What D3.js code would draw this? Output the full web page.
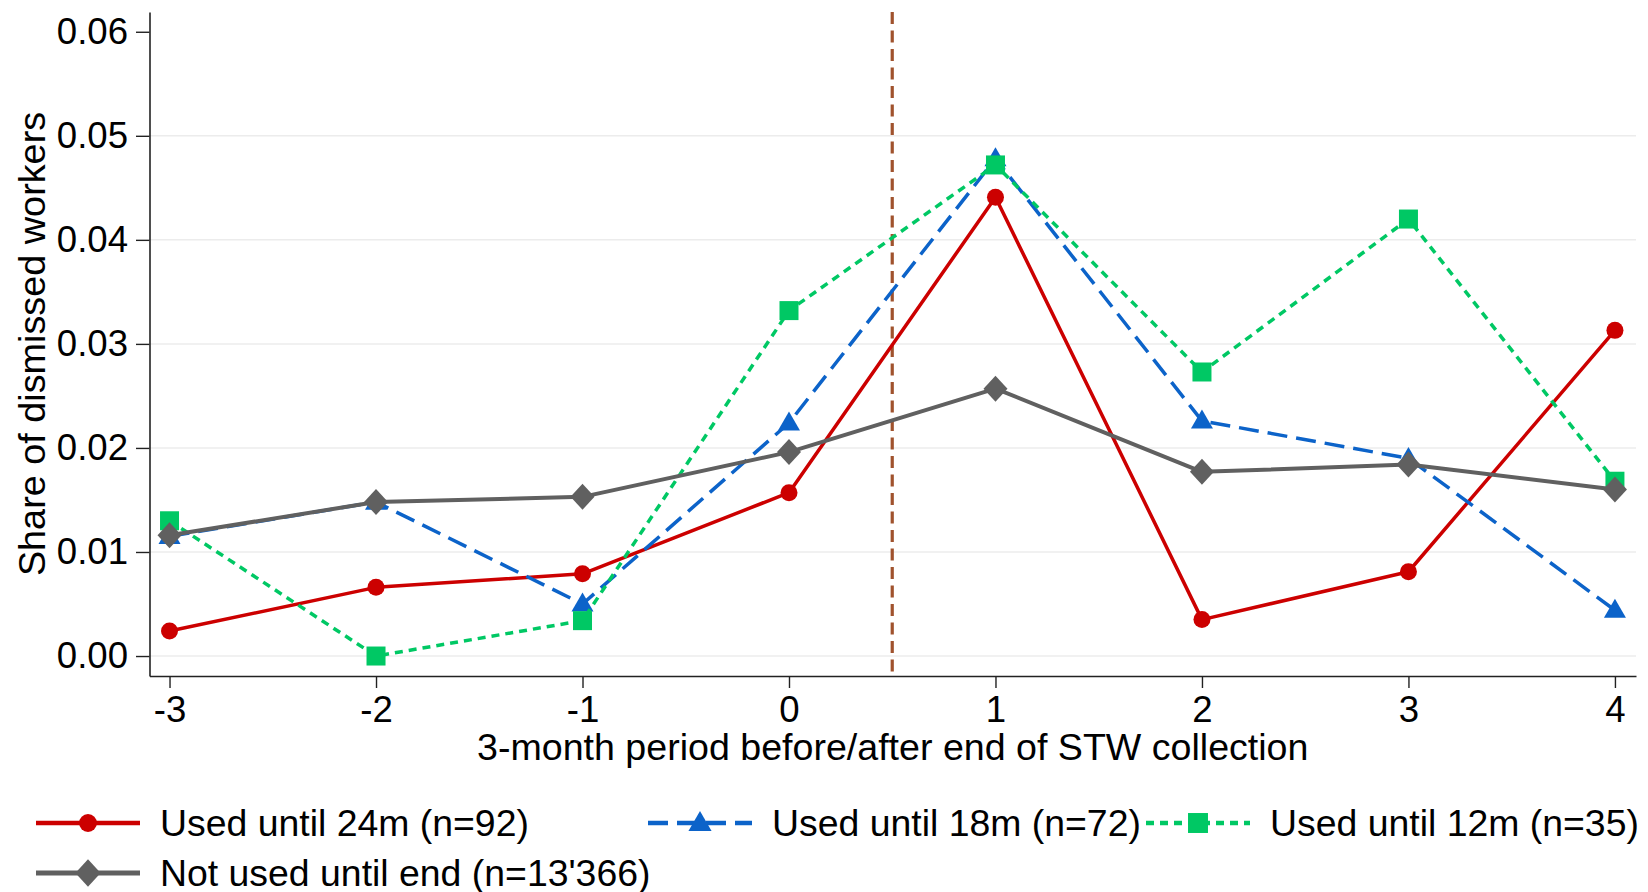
<!DOCTYPE html>
<html>
<head>
<meta charset="utf-8">
<script src="https://cdn.jsdelivr.net/npm/d3@7"></script>
<style>
  html, body { margin: 0; padding: 0; background: #fff; }
  svg { display: block; font-family: "Liberation Sans", Arial, sans-serif; }
</style>
</head>
<body>
<div id="chart"></div>
<script>
// periods (3-month) relative to end of STW collection
const periods = [-3, -2, -1, 0, 1, 2, 3, 4];

// share of dismissed workers
const used24m = [0.0024, 0.0066, 0.0079, 0.0157, 0.0441, 0.0035, 0.0081, 0.0313];
const used18m = [0.0115, 0.0148, 0.0050, 0.0224, 0.0478, 0.0226, 0.0190, 0.0044];
const used12m = [0.0130, 0.0000, 0.0034, 0.0332, 0.0472, 0.0273, 0.0420, 0.0168];
const notUsed = [0.0116, 0.0148, 0.0153, 0.0196, 0.0257, 0.0177, 0.0184, 0.0160];

const yTicks = [0, 0.01, 0.02, 0.03, 0.04, 0.05, 0.06];
const seriesLabels = [
  "Used until 24m (n=92)",
  "Used until 18m (n=72)",
  "Used until 12m (n=35)",
  "Not used until end (n=13'366)"
];

const W = 1648, H = 892;
const plot = { left: 149.5, right: 1636, top: 12, bottom: 676 };

const series = [
  { label: seriesLabels[0], values: used24m, color: "#cc0000", dash: null, width: 3.5, marker: "circle" },
  { label: seriesLabels[1], values: used18m, color: "#0c63c9", dash: "20,9", width: 3.5, marker: "triangle" },
  { label: seriesLabels[2], values: used12m, color: "#00c864", dash: "8,6", width: 3.5, marker: "square" },
  { label: seriesLabels[3], values: notUsed, color: "#606060", dash: null, width: 4, marker: "diamond" }
];

const svg = d3.select("#chart").append("svg")
  .attr("width", W)
  .attr("height", H);

const x = d3.scaleLinear().domain([-3.097, 4.102]).range([plot.left, plot.right]);
const y = d3.scaleLinear().domain([-0.00192, 0.0619]).range([plot.bottom, plot.top]);

// gridlines
svg.append("g")
  .selectAll("line")
  .data(yTicks.filter(d => d < 0.06))
  .join("line")
  .attr("x1", plot.left)
  .attr("x2", plot.right)
  .attr("y1", d => y(d))
  .attr("y2", d => y(d))
  .attr("stroke", "#ececec")
  .attr("stroke-width", 1.5);

// axes
const yAxis = svg.append("g")
  .attr("transform", `translate(${plot.left},0)`)
  .call(d3.axisLeft(y).tickValues(yTicks).tickFormat(d3.format(".2f")).tickSize(13.5).tickSizeOuter(0).tickPadding(8));

const xAxis = svg.append("g")
  .attr("transform", `translate(0,${plot.bottom})`)
  .call(d3.axisBottom(x).tickValues(periods).tickFormat(d => String(d)).tickSize(12).tickSizeOuter(0).tickPadding(8));

[yAxis, xAxis].forEach(g => {
  g.select(".domain").attr("stroke", "#222").attr("stroke-width", 1.6);
  g.selectAll(".tick line").attr("stroke", "#222").attr("stroke-width", 1.4);
  g.selectAll(".tick text")
    .attr("fill", "#000")
    .style("font-size", "36.6px")
    .style("font-family", "'Liberation Sans', Arial, sans-serif");
});

// axis titles
svg.append("text")
  .attr("x", (plot.left + plot.right) / 2)
  .attr("y", 760)
  .attr("text-anchor", "middle")
  .style("font-size", "37.6px")
  .text("3-month period before/after end of STW collection");

svg.append("text")
  .attr("transform", `translate(45,${(plot.top + plot.bottom) / 2}) rotate(-90)`)
  .attr("text-anchor", "middle")
  .style("font-size", "37.8px")
  .text("Share of dismissed workers");

// vertical reference line at end of STW collection
svg.append("line")
  .attr("x1", x(0.5))
  .attr("x2", x(0.5))
  .attr("y1", plot.top)
  .attr("y2", plot.bottom)
  .attr("stroke", "#a0522d")
  .attr("stroke-width", 3.2)
  .attr("stroke-dasharray", "12,6.5");

// marker drawing helper
function drawMarker(g, type, cx, cy, color, s) {
  if (type === "circle") {
    g.append("circle").attr("cx", cx).attr("cy", cy).attr("r", 8.5 * s).attr("fill", color);
  } else if (type === "triangle") {
    const h = 19 * s, w = 22 * s;
    g.append("path")
      .attr("d", `M${cx},${cy - h * 0.6}L${cx + w / 2},${cy + h * 0.4}L${cx - w / 2},${cy + h * 0.4}Z`)
      .attr("fill", color);
  } else if (type === "square") {
    const a = 19 * s;
    g.append("rect").attr("x", cx - a / 2).attr("y", cy - a / 2).attr("width", a).attr("height", a).attr("fill", color);
  } else if (type === "diamond") {
    const rx = 12 * s, ry = 13 * s;
    g.append("path")
      .attr("d", `M${cx},${cy - ry}L${cx + rx},${cy}L${cx},${cy + ry}L${cx - rx},${cy}Z`)
      .attr("fill", color);
  }
}

const line = d3.line()
  .x(d => x(d.p))
  .y(d => y(d.v));

series.forEach(s => {
  const pts = periods.map((p, i) => ({ p: p, v: s.values[i] }));
  const g = svg.append("g");
  g.append("path")
    .datum(pts)
    .attr("d", line)
    .attr("fill", "none")
    .attr("stroke", s.color)
    .attr("stroke-width", s.width)
    .attr("stroke-dasharray", s.dash)
    .attr("stroke-linejoin", "round");
  pts.forEach(d => drawMarker(g, s.marker, x(d.p), y(d.v), s.color, 1));
});

// legend
const legendPos = [
  { x: 36, y: 823 },
  { x: 648, y: 823 },
  { x: 1146, y: 823 },
  { x: 36, y: 873 }
];
const keyLen = 104;

series.forEach((s, i) => {
  const p = legendPos[i];
  const g = svg.append("g");
  g.append("line")
    .attr("x1", p.x).attr("x2", p.x + keyLen)
    .attr("y1", p.y).attr("y2", p.y)
    .attr("stroke", s.color)
    .attr("stroke-width", s.width + 1)
    .attr("stroke-dasharray", s.dash);
  drawMarker(g, s.marker, p.x + keyLen / 2, p.y, s.color, 1.05);
  g.append("text")
    .attr("x", p.x + keyLen + 20)
    .attr("y", p.y + 12.5)
    .style("font-size", "37.4px")
    .text(s.label);
});
</script>
</body>
</html>
